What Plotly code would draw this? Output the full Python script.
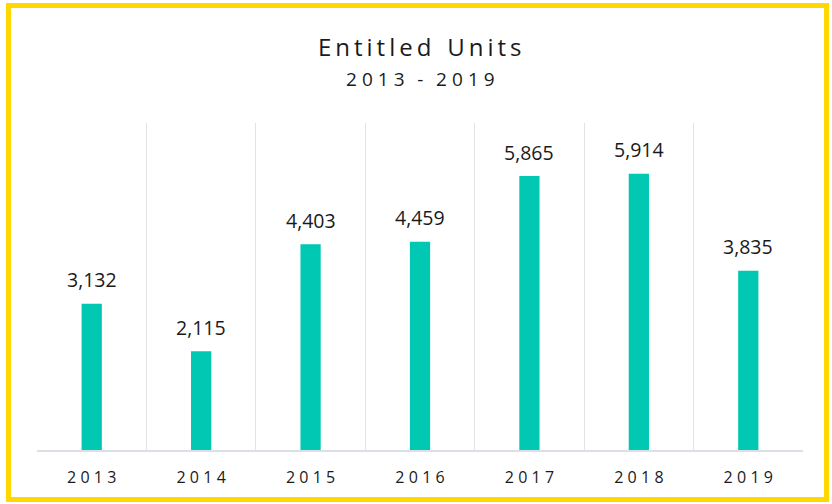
import plotly.graph_objects as go

# chart data
years = ["2013", "2014", "2015", "2016", "2017", "2018", "2019"]
entitled_units = [3132, 2115, 4403, 4459, 5865, 5914, 3835]
labels = [f"{v:,}" for v in entitled_units]

W, H = 832, 504
margin = {"l": 37, "r": 29, "t": 123, "b": 54}
plot_w = W - margin["l"] - margin["r"]
plot_h = H - margin["t"] - margin["b"]


def px_to_paper_x(px):
    return (px - margin["l"]) / plot_w


def px_to_paper_y(py):
    return (H - margin["b"] - py) / plot_h


def spaced(s, gap="\u2009"):
    # mimic the wide letter spacing of the original
    return gap.join(s)


fig = go.Figure(
    go.Bar(
        x=years,
        y=entitled_units,
        marker={"color": "#00C8B3", "line": {"width": 0}},
        width=0.185,
        hoverinfo="x+y",
    )
)

# value labels sit a little higher above the bars than plotly's own outside text;
# on a category axis the annotation x is the category index
for i, (value, label) in enumerate(zip(entitled_units, labels)):
    fig.add_annotation(
        x=i, y=value, text=label,
        yshift=24, yanchor="middle",
        showarrow=False,
        font={"size": 19.5, "color": "#1a1a1a"},
    )

fig.update_xaxes(
    type="category",
    range=[-0.5, len(years) - 0.5],
    tickson="boundaries",
    showgrid=True,
    gridcolor="#E0E3E8",
    gridwidth=1,
    showline=True,
    linecolor="#DCE0E6",
    linewidth=2,
    ticks="",
    tickvals=years,
    ticktext=[spaced(y, "\u2009\u200a") for y in years],
    tickfont={"size": 16, "color": "#1a1a1a"},
    ticklabelstandoff=12,
)
fig.update_yaxes(
    range=[0, 7000],
    showgrid=False,
    zeroline=False,
    showticklabels=False,
    showline=False,
)

fig.add_annotation(
    text=spaced("Entitled") + "\u2002\u2009" + spaced("Units"),
    xref="paper", yref="paper",
    x=0.5, y=px_to_paper_y(46),
    xanchor="center", yanchor="middle",
    showarrow=False,
    font={"size": 24, "color": "#1a1a1a"},
)
fig.add_annotation(
    text=spaced("2013", "\u2009\u200a") + "\u2002\u2009-\u2002\u2009" + spaced("2019", "\u2009\u200a"),
    xref="paper", yref="paper",
    x=0.5, y=px_to_paper_y(79),
    xanchor="center", yanchor="middle",
    showarrow=False,
    font={"size": 19, "color": "#1a1a1a"},
)

# yellow frame round the whole chart
fig.add_shape(
    type="rect",
    xref="paper", yref="paper",
    x0=px_to_paper_x(8.5), x1=px_to_paper_x(826.5),
    y0=px_to_paper_y(499.5), y1=px_to_paper_y(5.5),
    line={"color": "#FFD800", "width": 5},
    layer="below",
)

fig.update_layout(
    width=W,
    height=H,
    margin=margin,
    font={"family": "Open Sans, sans-serif", "color": "#1a1a1a"},
    paper_bgcolor="white",
    plot_bgcolor="white",
    showlegend=False,
    bargap=0.8,
)

fig.write_html(
    "out.html",
    config={"displayModeBar": False},
    post_script="document.body.style.margin='0';document.body.style.overflow='hidden';",
)
